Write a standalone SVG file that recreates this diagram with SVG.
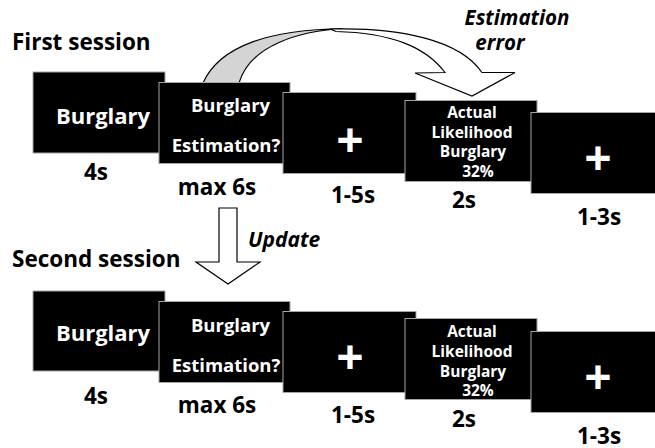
<svg xmlns="http://www.w3.org/2000/svg" width="655" height="448" viewBox="0 0 655 448">
<style>
.t{font-family:"Open Sans","Liberation Sans",sans-serif;font-weight:bold;fill:#000}
.w{font-family:"Open Sans","Liberation Sans",sans-serif;font-weight:bold;fill:#fff;text-anchor:middle}
.c{text-anchor:middle}
.i{font-style:italic}
.box{fill:#000;stroke:#a6a6a6;stroke-width:1}
.arr{stroke:#000;stroke-width:1.2;stroke-linejoin:miter}
</style>
<rect width="655" height="448" fill="#fff"/>
<g id="connectors">
  <path class="arr" fill="#d4d4d4" d="M203,83 C220,45 270,30 343,28.5 C300,31 250,45 239,83 Z"/>
  <path class="arr" fill="#fff" d="M330,29 C400,27 460,40 482,72.5 L515,72.5 L472,96 L415,73 L445,72.5 C425,46 390,33 336,31.5 Z"/>
  <path class="arr" fill="#fff" d="M219,208 L237,208 L237,262 L260,262 L228,284 L196,262 L219,262 Z"/>
</g>
<g id="labels">
  <text class="t" x="12" y="50" font-size="22.5">First session</text>
  <text class="t" x="12" y="267" font-size="22.5">Second session</text>
  <text class="t i c" x="517" y="25" font-size="20.5">Estimation</text>
  <text class="t i c" x="500" y="50" font-size="20.5">error</text>
  <text class="t i" x="248" y="247" font-size="21">Update</text>
</g>
<g id="s1-cue">
  <rect class="box" x="33" y="72" width="132" height="81"/>
  <text class="w" x="103" y="124" font-size="22">Burglary</text>
  <text class="t c" x="96" y="180" font-size="22.5">4s</text>
</g>
<g id="s1-estimation">
  <rect class="box" x="159" y="82.5" width="131" height="81"/>
  <text class="w" x="230.5" y="112" font-size="18.5">Burglary</text>
  <text class="w" x="226" y="151.5" font-size="18.5">Estimation?</text>
  <text class="t c" x="217" y="195" font-size="22.5">max 6s</text>
</g>
<g id="s1-fix1">
  <rect class="box" x="283" y="92.5" width="133" height="81"/>
  <text class="w" x="350" y="157" font-size="48">+</text>
  <text class="t c" x="353" y="203" font-size="22.5">1-5s</text>
</g>
<g id="s1-feedback">
  <rect class="box" x="405" y="100.5" width="132" height="81"/>
  <text class="w" x="472" y="118" font-size="15.5">Actual</text>
  <text class="w" x="472" y="138" font-size="15.5">Likelihood</text>
  <text class="w" x="473" y="157" font-size="15.5">Burglary</text>
  <text class="w" x="478" y="176.5" font-size="15.5">32%</text>
  <text class="t c" x="464" y="208" font-size="22.5">2s</text>
</g>
<g id="s1-fix2">
  <rect class="box" x="531" y="112.5" width="133" height="81"/>
  <text class="w" x="598" y="175" font-size="48">+</text>
  <text class="t c" x="599" y="225" font-size="22.5">1-3s</text>
</g>
<g id="s2-cue">
  <rect class="box" x="33" y="291" width="132" height="80"/>
  <text class="w" x="103" y="341" font-size="22">Burglary</text>
  <text class="t c" x="96" y="404" font-size="22.5">4s</text>
</g>
<g id="s2-estimation">
  <rect class="box" x="159" y="301.5" width="131" height="81"/>
  <text class="w" x="230.5" y="332" font-size="18.5">Burglary</text>
  <text class="w" x="226" y="371.5" font-size="18.5">Estimation?</text>
  <text class="t c" x="217" y="413" font-size="22.5">max 6s</text>
</g>
<g id="s2-fix1">
  <rect class="box" x="283" y="311.5" width="133" height="81"/>
  <text class="w" x="350" y="374" font-size="48">+</text>
  <text class="t c" x="353" y="423" font-size="22.5">1-5s</text>
</g>
<g id="s2-feedback">
  <rect class="box" x="405" y="318.5" width="132" height="81"/>
  <text class="w" x="472" y="337" font-size="15.5">Actual</text>
  <text class="w" x="472" y="357" font-size="15.5">Likelihood</text>
  <text class="w" x="473" y="376.5" font-size="15.5">Burglary</text>
  <text class="w" x="478" y="396" font-size="15.5">32%</text>
  <text class="t c" x="464" y="427" font-size="22.5">2s</text>
</g>
<g id="s2-fix2">
  <rect class="box" x="531" y="331.5" width="133" height="81"/>
  <text class="w" x="598" y="394" font-size="48">+</text>
  <text class="t c" x="599" y="443.5" font-size="22.5">1-3s</text>
</g>
</svg>
